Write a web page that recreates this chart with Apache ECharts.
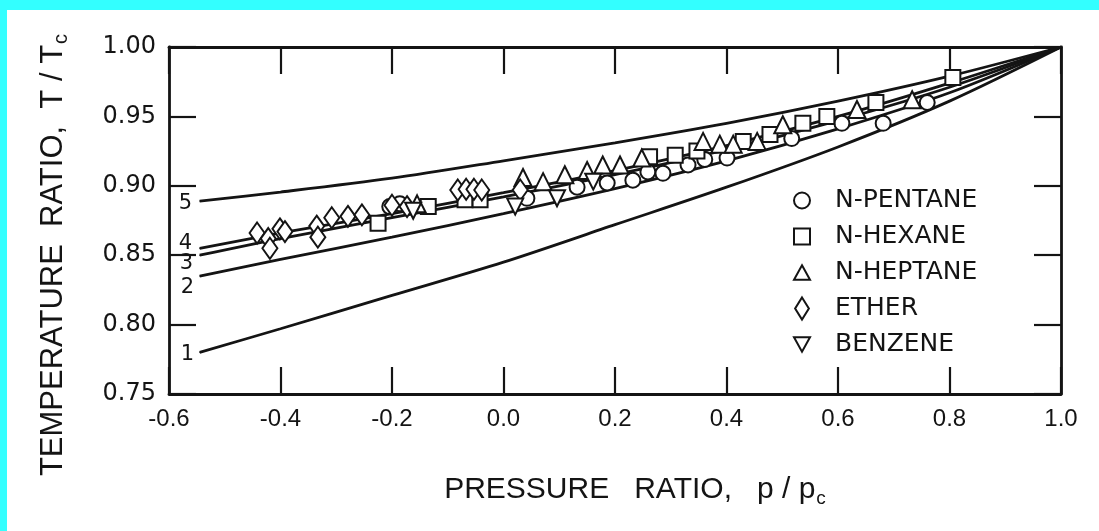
<!DOCTYPE html>
<html><head><meta charset="utf-8">
<script src="https://cdn.jsdelivr.net/npm/echarts/dist/echarts.min.js"></script>
<style>
html,body{margin:0;padding:0;background:#33ffff;width:1099px;height:531px;overflow:hidden}
#chart{position:absolute;left:7px;top:10px;width:1092px;height:521px;background:#fff}
</style></head><body><div id="chart"></div>
<script>
// ---- data ----
const curveP  = [-0.545, -0.4, -0.2, 0.0, 0.2, 0.4, 0.6, 0.8, 1.0];
const curve1  = [0.780, 0.797, 0.821, 0.845, 0.872, 0.899, 0.928, 0.961, 1.0];
const curve2  = [0.835, 0.847, 0.863, 0.880, 0.898, 0.918, 0.941, 0.967, 1.0];
const curve3  = [0.850, 0.862, 0.877, 0.892, 0.908, 0.926, 0.947, 0.971, 1.0];
const curve4  = [0.855, 0.866, 0.880, 0.895, 0.911, 0.929, 0.950, 0.974, 1.0];
const curve5  = [0.889, 0.8955, 0.9055, 0.918, 0.931, 0.945, 0.961, 0.979, 1.0];
const curveNames = ['1', '2', '3', '4', '5'];

const pentane = [[-0.204,0.885],[-0.186,0.887],[0.042,0.891],[0.132,0.899],[0.186,0.902],[0.232,0.904],
  [0.259,0.910],[0.286,0.909],[0.331,0.915],[0.361,0.919],[0.401,0.920],[0.517,0.934],[0.607,0.945],
  [0.681,0.945],[0.760,0.960]];
const hexane = [[-0.225,0.873],[-0.135,0.885],[-0.069,0.890],[-0.042,0.890],[0.262,0.921],[0.308,0.922],
  [0.347,0.925],[0.430,0.932],[0.478,0.937],[0.537,0.945],[0.580,0.950],[0.668,0.960],[0.806,0.978]];
const heptane = [[-0.155,0.887],[0.035,0.906],[0.071,0.903],[0.110,0.908],[0.150,0.911],[0.178,0.915],
  [0.209,0.915],[0.248,0.920],[0.358,0.932],[0.388,0.930],[0.412,0.930],[0.455,0.932],[0.501,0.944],
  [0.634,0.955],[0.733,0.962]];
const ether = [[-0.442,0.866],[-0.422,0.862],[-0.419,0.855],[-0.401,0.869],[-0.392,0.867],[-0.335,0.871],
  [-0.333,0.863],[-0.308,0.877],[-0.279,0.878],[-0.254,0.879],[-0.200,0.886],[-0.173,0.885],
  [-0.082,0.897],[-0.067,0.8975],[-0.053,0.8975],[-0.039,0.897],[0.030,0.897]];
const benzene = [[-0.162,0.882],[0.021,0.885],[0.096,0.891],[0.161,0.903]];

const legendNames = ['N-PENTANE', 'N-HEXANE', 'N-HEPTANE', 'ETHER', 'BENZENE'];
const xTickLabels = ['-0.6','-0.4','-0.2','0.0','0.2','0.4','0.6','0.8','1.0'];
const yTickLabels = ['0.75','0.80','0.85','0.90','0.95','1.00'];

// ---- chart ----
const INK = '#141414';
const chart = echarts.init(document.getElementById('chart'), null, {renderer: 'canvas'});

const curves = [curve1, curve2, curve3, curve4, curve5];
const labelOffsets = [[2, 2], [2, 12], [1, 8], [0, -5], [0, 2]];
const lineSeries = curves.map((c, i) => ({
  type: 'line', name: 'curve' + curveNames[i], smooth: 0.3, z: 2,
  showSymbol: true, symbol: 'circle', symbolSize: 1,
  itemStyle: {color: INK},
  lineStyle: {color: INK, width: 2.8},
  label: {show: false},
  silent: true,
  data: c.map((t, k) => k === 0 ? {
    value: [curveP[k], t],
    label: {show: true, position: 'left', distance: 7, offset: labelOffsets[i], formatter: curveNames[i],
      fontSize: 21, fontFamily: 'DejaVu Sans', color: INK}
  } : [curveP[k], t])
}));

const markerStyle = {color: '#ffffff', opacity: 1, borderColor: INK, borderWidth: 2};
const scatterDefs = [
  {name: legendNames[0], data: pentane, symbol: 'circle', size: 15},
  {name: legendNames[1], data: hexane, symbol: 'rect', size: 15},
  {name: legendNames[2], data: heptane, symbol: 'triangle', size: 17},
  {name: legendNames[3], data: ether, symbol: 'diamond', size: [15, 21]},
  {name: legendNames[4], data: benzene, symbol: 'triangle', size: 16, rotate: 180}
];
const scatterSeries = scatterDefs.map(d => ({
  type: 'scatter', name: d.name, z: 5, symbol: d.symbol, symbolSize: d.size,
  symbolRotate: d.rotate || 0, itemStyle: markerStyle, data: d.data
}));

const legendIcons = ['circle', 'path://M0,0L10,0L10,10L0,10Z', 'path://M5,0L10,9L0,9Z',
  'path://M5,0L10,8L5,16L0,8Z', 'path://M0,0L10,0L5,9Z'];

const axisLine = {show: true, onZero: false, lineStyle: {color: INK, width: 2.8}};
const tick = {show: true, inside: true, length: 27, lineStyle: {color: INK, width: 2.2}};

chart.setOption({
  animation: false,
  backgroundColor: '#fff',
  grid: {left: 162, right: 38, top: 37, bottom: 137},
  xAxis: [
    {type: 'value', position: 'bottom', min: -0.6, max: 1.0, interval: 0.2,
     axisLine, axisTick: tick, splitLine: {show: false},
     axisLabel: {margin: 13, fontSize: 24, fontFamily: 'Liberation Sans', color: INK,
       formatter: v => xTickLabels[Math.round((v + 0.6) / 0.2)]}},
    {type: 'value', position: 'top', min: -0.6, max: 1.0, interval: 0.2,
     axisLine, axisTick: tick, splitLine: {show: false}, axisLabel: {show: false}}
  ],
  yAxis: [
    {type: 'value', position: 'left', min: 0.75, max: 1.0, interval: 0.05,
     axisLine, axisTick: tick, splitLine: {show: false},
     axisLabel: {margin: 13, fontSize: 24, fontFamily: 'DejaVu Sans', color: INK,
       formatter: v => yTickLabels[Math.round((v - 0.75) / 0.05)]}},
    {type: 'value', position: 'right', min: 0.75, max: 1.0, interval: 0.05,
     axisLine, axisTick: tick, splitLine: {show: false}, axisLabel: {show: false}}
  ],
  legend: {
    orient: 'vertical', left: 781, top: 173, itemGap: 11, itemWidth: 16, itemHeight: 22,
    symbolKeepAspect: true, selectedMode: false,
    itemStyle: {color: '#ffffff', opacity: 1, borderColor: INK, borderWidth: 2},
    textStyle: {fontSize: 25, fontFamily: 'DejaVu Sans', color: INK, padding: [0, 0, 0, 20]},
    data: legendNames.map((n, i) => ({name: n, icon: legendIcons[i]}))
  },
  graphic: [
    {type: 'text', x: 628, y: 480, silent: true,
     style: {text: '{m|PRESSURE   RATIO,   p / p}{s|c}', align: 'center', verticalAlign: 'middle',
       rich: {m: {fontSize: 30, fontFamily: 'Liberation Sans', fill: INK},
              s: {fontSize: 19, fontFamily: 'Liberation Sans', fill: INK, padding: [17, 0, 0, 1]}}}},
    {type: 'text', x: 46, y: 245, rotation: Math.PI / 2, silent: true,
     style: {text: '{m|TEMPERATURE  RATIO,  T / T}{s|c}', align: 'center', verticalAlign: 'middle',
       rich: {m: {fontSize: 31, fontFamily: 'Liberation Sans', fill: INK},
              s: {fontSize: 20, fontFamily: 'Liberation Sans', fill: INK, padding: [17, 0, 0, 1]}}}}
  ],
  series: lineSeries.concat(scatterSeries)
});
</script></body></html>
